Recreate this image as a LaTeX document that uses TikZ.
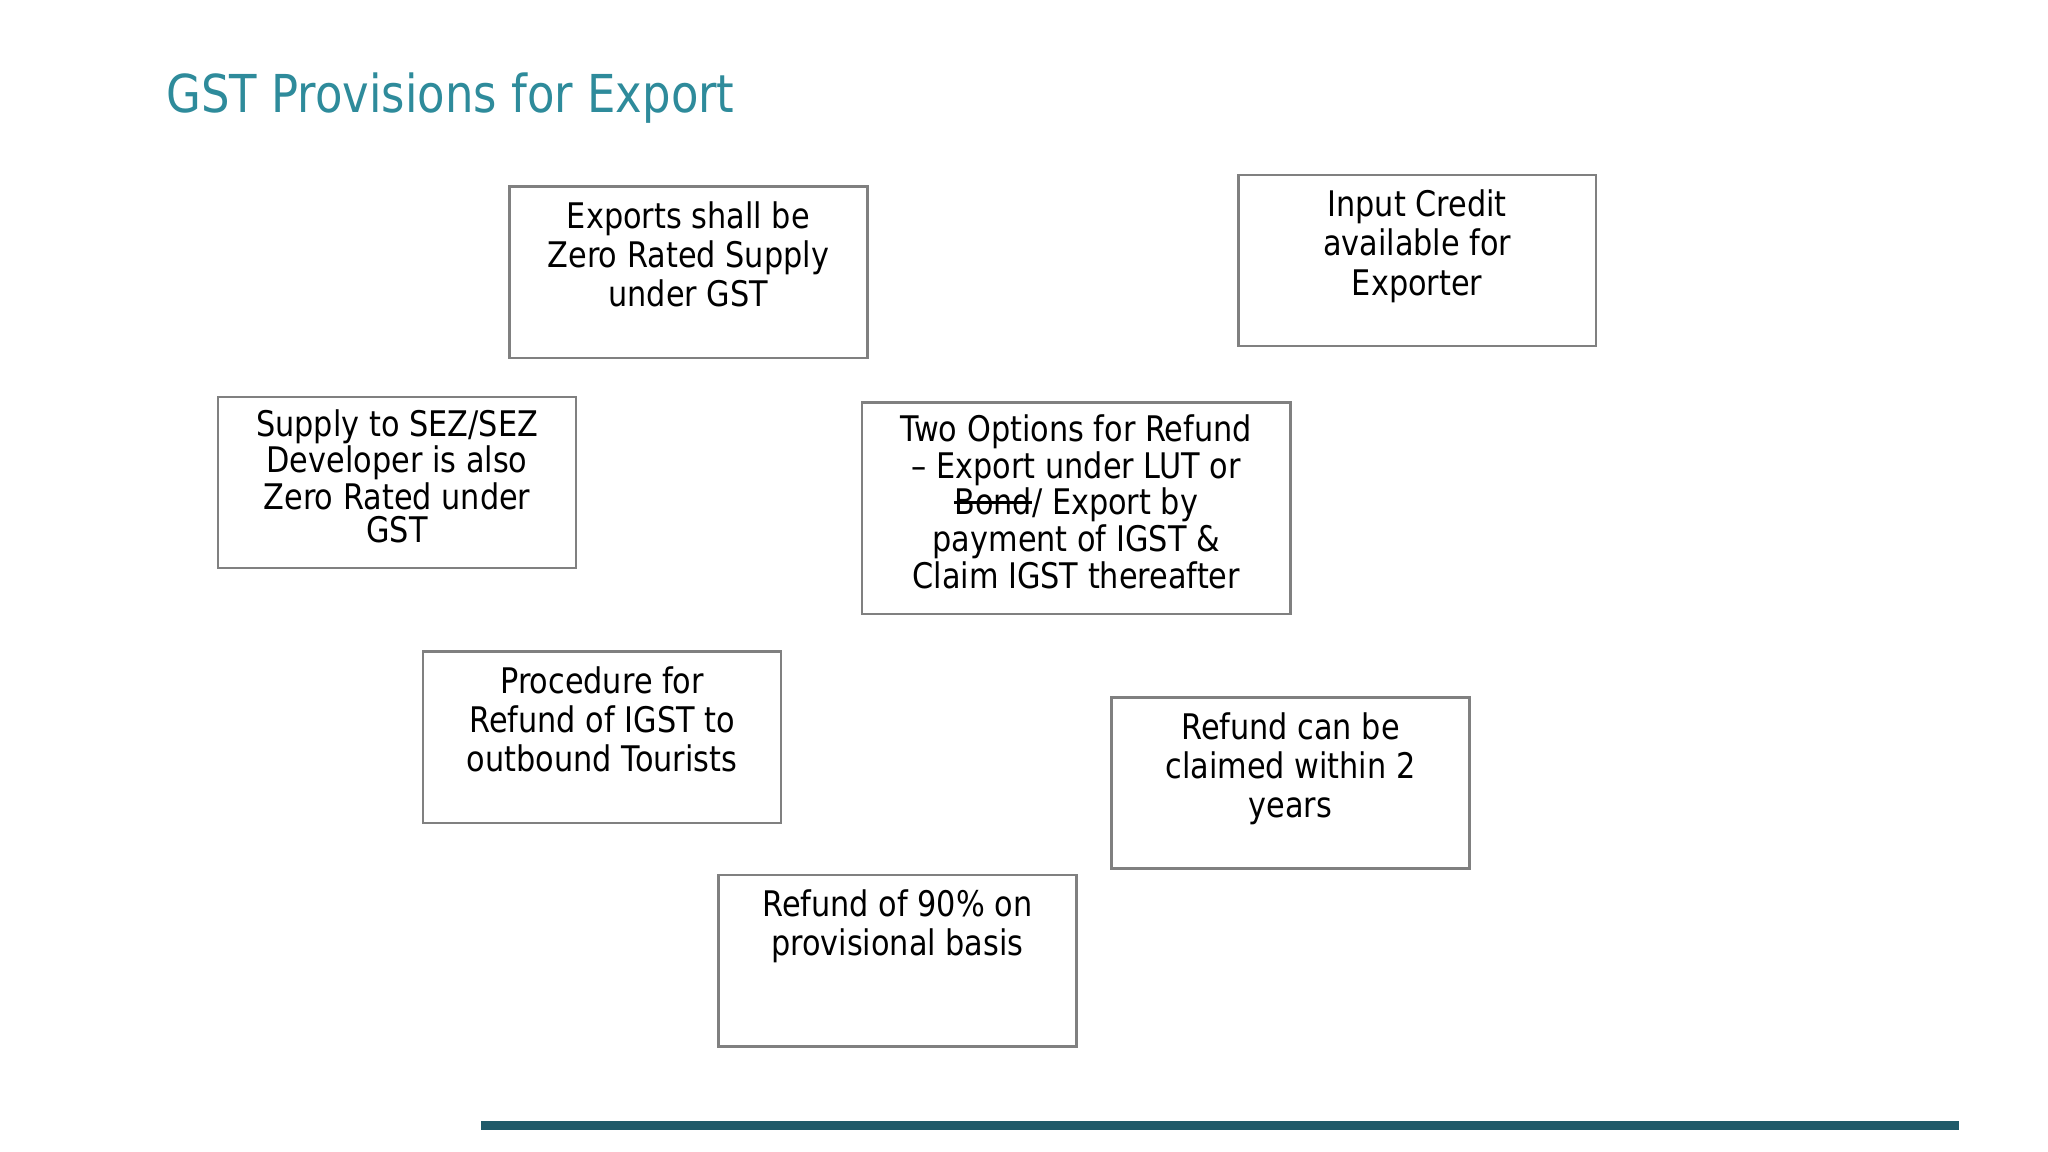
\documentclass[tikz,border=0pt]{standalone}
\usepackage{fontspec}
\setmainfont{DejaVu Sans}[FakeStretch=0.86]
\definecolor{ttl}{RGB}{46,139,155}
\definecolor{bar}{RGB}{31,90,105}
\definecolor{bord}{RGB}{128,128,128}
\newcommand\strk[1]{\setbox0\hbox{#1}\rlap{\rule[0.32em]{\wd0}{0.07em}}\box0}
\begin{document}
\begin{tikzpicture}[x=0.5pt,y=-0.5pt,
  bx/.style={draw=bord,line width=1pt},
  tx/.style={anchor=north,align=center,inner sep=0pt,font=\fontsize{13.5}{15}\selectfont},
  tt/.style={anchor=north,align=center,inner sep=0pt,font=\fontsize{13.5}{12.5}\selectfont}]
\useasboundingbox[fill=white] (0,0) rectangle (1568,882);
\node[anchor=west,text=ttl,font=\fontsize{20}{24}\selectfont,inner sep=0pt] (title) at (127,75) {GST Provisions for Export};
\draw[bx] (390,143) rectangle (664,274) coordinate (a);
\node[tx] (ta) at (527,154) {Exports shall be\\Zero Rated Supply\\under GST};
\draw[bx] (948,134) rectangle (1222,265);
\node[tx] (tb) at (1085,145) {Input Credit\\available for\\Exporter};
\draw[bx] (167,304) rectangle (441,435);
\node[tt] (tc) at (304,313) {Supply to SEZ/SEZ\\Developer is also\\Zero Rated under\\GST};
\draw[bx] (660,308) rectangle (988,470);
\node[tt] (td) at (824,317) {Two Options for Refund\\-- Export under LUT or\\\strk{Bond} / Export by\\payment of IGST \&\\Claim IGST thereafter};
\draw[bx] (324,499) rectangle (598,630);
\node[tx] (te) at (461,510) {Procedure for\\Refund of IGST to\\outbound Tourists};
\draw[bx] (851,534) rectangle (1125,665);
\node[tx] (tf) at (988,545) {Refund can be\\claimed within 2\\years};
\draw[bx] (550,670) rectangle (824,801);
\node[tx] (tg) at (687,681) {Refund of 90\% on\\provisional basis};
\fill[bar] (368,858) rectangle (1500,865);
\end{tikzpicture}
\end{document}
